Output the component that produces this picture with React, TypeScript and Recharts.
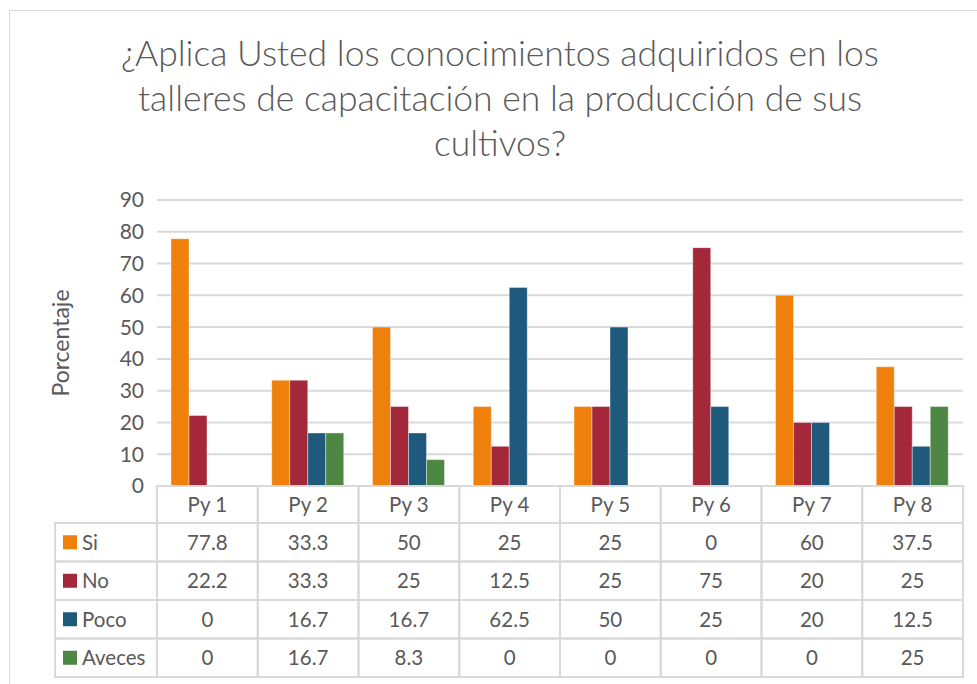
import React from 'react';
import { BarChart, Bar, XAxis, YAxis, CartesianGrid } from 'recharts';

const categories = ['Py 1', 'Py 2', 'Py 3', 'Py 4', 'Py 5', 'Py 6', 'Py 7', 'Py 8'];
const siValues = [77.8, 33.3, 50, 25, 25, 0, 60, 37.5];
const noValues = [22.2, 33.3, 25, 12.5, 25, 75, 20, 25];
const pocoValues = [0, 16.7, 16.7, 62.5, 50, 25, 20, 12.5];
const avecesValues = [0, 16.7, 8.3, 0, 0, 0, 0, 25];
const yTicks = [0, 10, 20, 30, 40, 50, 60, 70, 80, 90];

const seriesDefs = [
  { key: 'Si', values: siValues, color: '#EE800B' },
  { key: 'No', values: noValues, color: '#A3283A' },
  { key: 'Poco', values: pocoValues, color: '#1F5A7D' },
  { key: 'Aveces', values: avecesValues, color: '#4E8743' },
];

const data = categories.map((c, i) => {
  const row: any = { name: c };
  seriesDefs.forEach((s) => (row[s.key] = s.values[i]));
  return row;
});

const W = 977;
const H = 684;
const PLOT_LEFT = 157;
const PLOT_RIGHT = 963;
const PLOT_TOP = 200;
const PLOT_BOTTOM = 486;
const COL_W = (PLOT_RIGHT - PLOT_LEFT) / categories.length;
const HEADER_H = 37;
const ROW_H = 38.5;
const LEGEND_LEFT = 55;
const FONT = 'Lato, "Open Sans", sans-serif';
const TEXT = '#595959';
const BORDER = '#d9d9d9';
const FS = 20.5;

const fmt = (v: number) => String(v);

const TableTick = (props: any) => {
  const { x, payload, index } = props;
  const top = PLOT_BOTTOM;
  const left = x - COL_W / 2;
  const idx = payload && typeof payload.index === 'number' ? payload.index : index;
  const els: any[] = [];
  els.push(
    <rect key="h" x={left} y={top} width={COL_W} height={HEADER_H} fill="none" stroke={BORDER} strokeWidth={2} />
  );
  els.push(
    <text key="ht" x={x} y={top + HEADER_H / 2 + 7.5} textAnchor="middle" fontSize={FS} fill={TEXT} fontFamily={FONT}>
      {payload.value}
    </text>
  );
  seriesDefs.forEach((s, r) => {
    const ry = top + HEADER_H + r * ROW_H;
    els.push(
      <rect key={'r' + r} x={left} y={ry} width={COL_W} height={ROW_H} fill="none" stroke={BORDER} strokeWidth={2} />
    );
    els.push(
      <text key={'t' + r} x={x} y={ry + ROW_H / 2 + 7.5} textAnchor="middle" fontSize={FS} fill={TEXT} fontFamily={FONT}>
        {fmt(s.values[idx])}
      </text>
    );
    if (idx === 0) {
      els.push(
        <rect key={'lr' + r} x={LEGEND_LEFT} y={ry} width={left - LEGEND_LEFT} height={ROW_H} fill="none" stroke={BORDER} strokeWidth={2} />
      );
      els.push(<rect key={'ls' + r} x={63} y={ry + ROW_H / 2 - 7} width={14} height={14} fill={s.color} />);
      els.push(
        <text key={'lt' + r} x={82} y={ry + ROW_H / 2 + 7.5} fontSize={FS} fill={TEXT} fontFamily={FONT}>
          {s.key}
        </text>
      );
    }
  });
  return <g>{els}</g>;
};

export default function App() {
  return (
    <div style={{ position: 'absolute', left: 0, top: 0, width: W, height: H, overflow: 'hidden', background: '#fff' }}>
      <div
        style={{
          position: 'absolute',
          left: 9,
          top: 10,
          width: 1000,
          height: 700,
          border: `1px solid ${BORDER}`,
          boxSizing: 'border-box',
        }}
      />
      <div
        style={{
          position: 'absolute',
          left: 0,
          top: 30,
          width: 1000,
          textAlign: 'center',
          fontFamily: FONT,
          fontSize: 35.5,
          fontWeight: 300,
          lineHeight: '45px',
          color: TEXT,
        }}
      >
        ¿Aplica Usted los conocimientos adquiridos en los
        <br />
        talleres de capacitación en la producción de sus
        <br />
        cultivos?
      </div>
      <div style={{ position: 'absolute', left: 0, top: 0 }}>
        <BarChart
          width={W}
          height={H}
          data={data}
          margin={{ top: PLOT_TOP, right: W - PLOT_RIGHT, bottom: 0, left: 0 }}
          barGap={0}
          barCategoryGap={14}
        >
          <CartesianGrid vertical={false} stroke={BORDER} strokeWidth={2} />
          <XAxis
            dataKey="name"
            axisLine={false}
            tickLine={false}
            tickSize={0}
            tickMargin={0}
            height={H - PLOT_BOTTOM}
            interval={0}
            tick={<TableTick />}
          />
          <YAxis
            width={PLOT_LEFT}
            domain={[0, 90]}
            ticks={yTicks}
            axisLine={false}
            tickLine={false}
            tickSize={0}
            tickMargin={13}
            tick={{ fontSize: 21, fill: TEXT, fontFamily: FONT }}
            label={{
              value: 'Porcentaje',
              angle: -90,
              position: 'insideLeft',
              offset: 0,
              dx: 61,
              fontSize: 23,
              fill: TEXT,
              fontFamily: FONT,
              style: { fontSize: 23, fill: TEXT, fontFamily: FONT, textAnchor: 'middle' },
            }}
          />
          {seriesDefs.map((s) => (
            <Bar
              key={s.key}
              dataKey={s.key}
              fill={s.color}
              stroke="#ffffff"
              strokeOpacity={0.4}
              strokeWidth={1}
              isAnimationActive={false}
            />
          ))}
        </BarChart>
      </div>
    </div>
  );
}
